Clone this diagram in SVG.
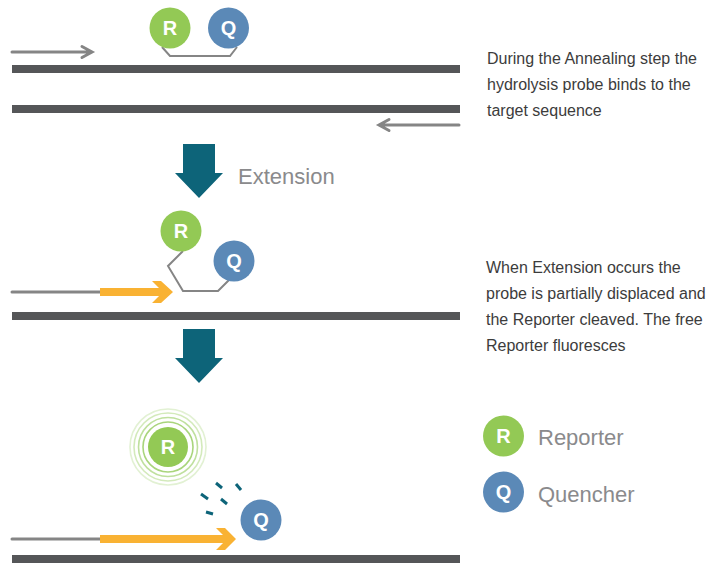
<svg xmlns="http://www.w3.org/2000/svg" width="726" height="564" viewBox="0 0 726 564">
<style>
.strand{fill:#555658}
.primer{stroke:#858585;stroke-width:3;fill:none;stroke-linecap:round;stroke-linejoin:miter}
.link{stroke:#858585;stroke-width:2;fill:none}
.rc{fill:#93c955}
.qc{fill:#5b89b7}
.lt{font-family:"Liberation Sans",Arial,sans-serif;font-weight:bold;font-size:20px;fill:#fff;text-anchor:middle}
.desc{font-family:"Liberation Sans",Arial,sans-serif;font-size:16px;fill:#3c3c3c}
.big{font-family:"Liberation Sans",Arial,sans-serif;font-size:22px;fill:#8a8a8c}
.down{fill:#0d6479}
.orange{fill:#f9b233}
.dash{stroke:#0d6479;stroke-width:3}
.ring{fill:none;stroke-width:1.6}
</style>
<defs>
<polygon id="downArrow" points="-16,0 16,0 16,29 24,29 0,54 -24,29 -16,29"/>
</defs>

<g id="strands">
<rect class="strand" x="12" y="65" width="448" height="8"/>
<rect class="strand" x="12" y="105" width="448" height="8"/>
<rect class="strand" x="12" y="312" width="448" height="8"/>
<rect class="strand" x="12" y="555" width="448" height="8"/>
</g>

<g id="connectors">
<path class="primer" d="M12,52 H91 M82,46.5 L92,52 L82,57.5"/>
<path class="primer" d="M380,125 H459 M389,119.5 L379,125 L389,130.5"/>
<path class="link" d="M162,47 L170,56 H230 L237,47"/>
<path class="link" d="M183,251 L168,266 L183,291 H218 L230,279"/>
<path class="primer" d="M12,292 H100"/>
<rect class="orange" x="100" y="288" width="66" height="8"/>
<polygon class="orange" points="152,281 161,281 173,292 161,303 152,303 163,292"/>
<path class="primer" d="M12,539 H100"/>
<rect class="orange" x="100" y="535" width="130" height="8"/>
<polygon class="orange" points="216,528 225,528 236,539 225,550 216,550 227,539"/>
<use href="#downArrow" class="down" x="199" y="144"/>
<use href="#downArrow" class="down" x="199" y="329"/>
</g>

<g id="reporter1"><circle class="rc" cx="170" cy="28" r="20.5"/><text class="lt" x="170" y="35">R</text></g>
<g id="quencher1"><circle class="qc" cx="228.5" cy="28" r="20.5"/><text class="lt" x="228.5" y="35">Q</text></g>

<g id="extension-label"><text class="big" x="238" y="184">Extension</text></g>

<g id="reporter2"><circle class="rc" cx="181" cy="231" r="20.5"/><text class="lt" x="181" y="238">R</text></g>
<g id="quencher2"><circle class="qc" cx="234" cy="261" r="20.5"/><text class="lt" x="234" y="268">Q</text></g>

<g id="reporter3">
<circle class="ring" cx="168" cy="447" r="25" stroke="#a9d57c"/>
<circle class="ring" cx="168" cy="447" r="29.5" stroke="#bfe09e"/>
<circle class="ring" cx="168" cy="447" r="34" stroke="#d3eabb"/>
<circle class="ring" cx="168" cy="447" r="38" stroke="#e2f1d3"/>
<circle class="rc" cx="168" cy="447" r="20"/><text class="lt" x="168" y="454">R</text>
</g>

<g id="fragments">
<line class="dash" x1="216" y1="483" x2="222" y2="488"/>
<line class="dash" x1="236" y1="484" x2="241" y2="490"/>
<line class="dash" x1="201" y1="494" x2="208" y2="499"/>
<line class="dash" x1="221" y1="499" x2="227" y2="504"/>
<line class="dash" x1="206" y1="512" x2="213" y2="514"/>
</g>

<g id="quencher3"><circle class="qc" cx="261" cy="520" r="20.5"/><text class="lt" x="261" y="527">Q</text></g>

<g id="desc1">
<text class="desc" x="487" y="64">During the Annealing step the</text>
<text class="desc" x="487" y="90">hydrolysis probe binds to the</text>
<text class="desc" x="487" y="116">target sequence</text>
</g>
<g id="desc2">
<text class="desc" x="486" y="273">When Extension occurs the</text>
<text class="desc" x="486" y="299">probe is partially displaced and</text>
<text class="desc" x="486" y="325">the Reporter cleaved. The free</text>
<text class="desc" x="486" y="351">Reporter fluoresces</text>
</g>

<g id="legend-reporter"><circle class="rc" cx="503.5" cy="436" r="20.5"/><text class="lt" x="503.5" y="443">R</text><text class="big" x="538" y="445">Reporter</text></g>
<g id="legend-quencher"><circle class="qc" cx="503.5" cy="492" r="20.5"/><text class="lt" x="503.5" y="499">Q</text><text class="big" x="538" y="502">Quencher</text></g>
</svg>
